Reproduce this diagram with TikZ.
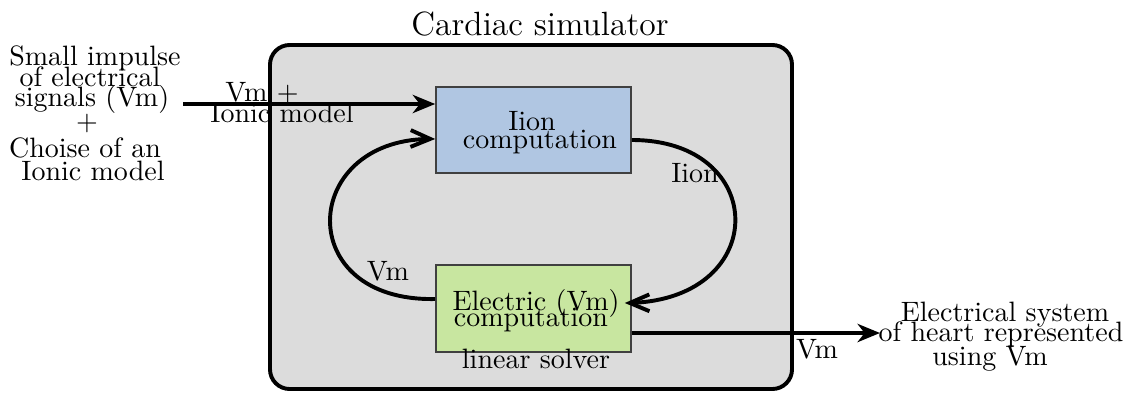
\documentclass[tikz,border=0pt]{standalone}
\usetikzlibrary{arrows.meta,calc,bending}
\definecolor{simgray}{HTML}{DCDCDC}
\definecolor{ionblue}{HTML}{B0C6E2}
\definecolor{elecgreen}{HTML}{C8E6A0}
\begin{document}
\begin{tikzpicture}[x=0.357pt,y=-0.357pt,
  txt/.style={anchor=base,inner sep=0pt,font=\normalsize},
  simbox/.style={draw=black,line width=1.4pt,fill=simgray,rounded corners=7pt},
  compbox/.style={draw=black!75,line width=0.6pt,minimum width=69.6pt,inner sep=0pt},
  mainarrow/.style={line width=1.4pt,-{Stealth[length=8pt,width=6.5pt,inset=2.5pt]}},
  looparrow/.style={line width=1.4pt,-{Straight Barb[length=7pt,width=6pt]}}]
\useasboundingbox (0,0) rectangle (1140,392);
% container
\draw[simbox] (270,45) rectangle (792,389);
\node[txt,font=\large] (title) at (540,35) {Cardiac simulator};
% boxes
\node[compbox,fill=ionblue,minimum height=30.7pt] (ion) at (533.5,130) {};
\node[compbox,fill=elecgreen,minimum height=31pt] (elec) at (533.5,308.5) {};
\node[txt] (ion1) at (532,130.7) {Iion};
\node[txt] (ion2) at (540,148) {computation};
\node[txt] (el1) at (536,310) {Electric (Vm)};
\node[txt] (el2) at (531,326.7) {computation};
\node[txt] (solver) at (536,368) {linear solver};
% left input text
\node[txt] (in1) at (95,65.7) {Small impulse};
\node[txt] (in2) at (90,86) {of electrical};
\node[txt] (in3) at (92,106.5) {signals (Vm)};
\node[txt] (in4) at (87,130) {+};
\node[txt] (in5) at (85,157) {Choise of an};
\node[txt] (in6) at (93,180) {Ionic model};
% output text
\node[txt] (out1) at (1005,321.7) {Electrical system};
\node[txt] (out2) at (1001,341.7) {of heart represented};
\node[txt] (out3) at (990,365) {using Vm};
% input arrow
\coordinate (inStart) at (183,104);
\draw[mainarrow] (inStart) -- (inStart -| ion.west);
\node[txt] (inl1) at (262,101) {Vm +};
\node[txt] (inl2) at (282,122) {Ionic model};
% loop
\draw[looparrow] (elec.west |- 0,299) .. controls (290,302) and (300,135) .. (ion.west |- 0,139);
\draw[looparrow] (ion.east |- 0,140) .. controls (771,140) and (771,303) .. ($(elec.east |- 0,303)+(-7,0)$);
\node[txt] (vmL) at (388,280) {Vm};
\node[txt] (iionL) at (695,182) {Iion};
% output arrow
\coordinate (outEnd) at (880,333);
\draw[mainarrow] (elec.east |- outEnd) -- (outEnd);
\node[txt] (vmR) at (817,358) {Vm};
\end{tikzpicture}
\end{document}
